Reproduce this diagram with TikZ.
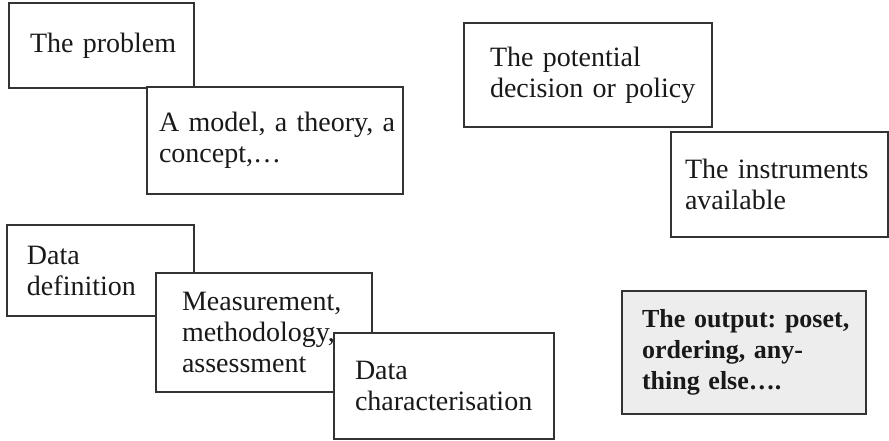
\documentclass[tikz,border=0pt]{standalone}
\usepackage{fontspec}
\setmainfont{Liberation Serif}
\frenchspacing
\definecolor{edge}{HTML}{333333}
\definecolor{outfill}{HTML}{EDEDED}
\begin{document}
\begin{tikzpicture}[x=1pt,y=-1pt,
  box/.style={draw=edge, line width=1.1pt, fill=white, rectangle,
    align=left, inner ysep=0pt,
    font=\fontsize{28}{31}\selectfont, text=black!90},
  outbox/.style={box, fill=outfill, font=\fontsize{26}{31}\selectfont\bfseries}
]
\useasboundingbox (0,0) rectangle (889,441);
% top-left group
\node[box, minimum width=185pt, minimum height=85pt, inner xsep=21pt, text width=143pt] (prob) at (101.5,45.5) {\mbox{The problem}};
\node[box, minimum width=256pt, minimum height=107pt, inner xsep=12pt, text width=232pt] (model) at (275,140.5) {\mbox{A model, a theory, a}\\\mbox{concept,…}};
% bottom-left group
\node[box, minimum width=187pt, minimum height=91pt, inner xsep=20pt, text width=147pt] (def) at (100.5,270.5) {\mbox{Data}\\\mbox{definition}};
\node[box, minimum width=216pt, minimum height=119pt, inner xsep=26pt, text width=164pt] (meas) at (264,332.5) {\mbox{Measurement,}\\\mbox{methodology,}\\\mbox{assessment}};
\node[box, minimum width=220pt, minimum height=106pt, inner xsep=21pt, text width=178pt] (char) at (444,386) {\mbox{Data}\\\mbox{characterisation}};
% top-right group
\node[box, minimum width=248pt, minimum height=104pt, inner xsep=26pt, text width=196pt] (pot) at (588,75) {\mbox{The potential}\\\mbox{decision or policy}};
\node[box, minimum width=217pt, minimum height=105pt, inner xsep=14pt, text width=189pt] (instr) at (779.5,184.5) {\mbox{The instruments}\\\mbox{available}};
% output
\node[outbox, minimum width=244pt, minimum height=123pt, inner xsep=20pt, text width=204pt] (out) at (744,352.5) {\mbox{The output: poset,}\\\mbox{ordering, any-}\\\mbox{thing else….}};
\end{tikzpicture}
\end{document}
